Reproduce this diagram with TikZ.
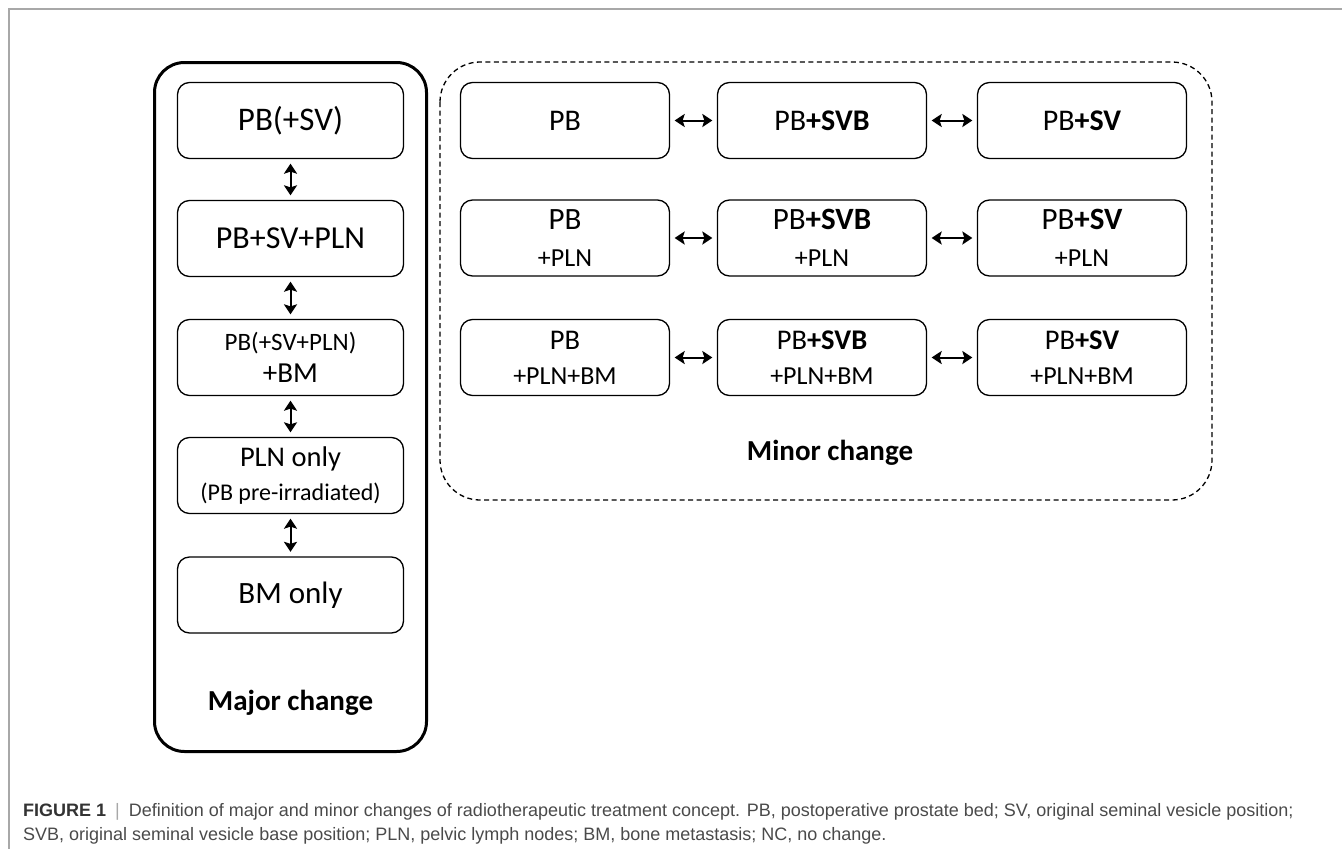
\documentclass[tikz,border=0pt]{standalone}
\usepackage{fontspec}
\setmainfont{Carlito}
\newfontfamily\capfont{Liberation Sans}
\usetikzlibrary{arrows.meta}

\definecolor{framegray}{HTML}{A8A8A8}
\definecolor{capgray}{HTML}{4A4A4A}

\tikzset{
  stagebox/.style={draw, line width=1.3pt, rounded corners=12pt, minimum width=226pt,
    minimum height=76pt, inner sep=0pt, align=center},
  minorbox/.style={stagebox, minimum width=209pt},
  linkarrow/.style={{Stealth[length=10pt,width=13pt,inset=2pt]}-{Stealth[length=10pt,width=13pt,inset=2pt]},
    line width=2pt, shorten <=4.5pt, shorten >=4.5pt},
  grouptitle/.style={font=\fontsize{29}{29}\selectfont\bfseries, inner sep=0pt},
  captext/.style={font=\capfont\fontsize{18}{18}\selectfont, text=capgray, inner sep=0pt, anchor=base west}
}

\begin{document}
\begin{tikzpicture}[x=1pt,y=-1pt]
    \useasboundingbox (0,0) rectangle (1342,849);

    % page frame
    \draw [framegray, line width=1.5pt] (9,849) -- (9,9) -- (1342,9);

    % Major change
    \draw [line width=3pt, rounded corners=30pt] (154.5,62.5) rectangle (426.5,751.5);
    \node [stagebox, font=\fontsize{33}{33}\selectfont] (pbsv) at (290.5,120.5) {PB(+SV)};
    \node [stagebox, font=\fontsize{32}{32}\selectfont] (pbsvpln) at (290.5,238.5) {PB+SV+PLN};
    \node [stagebox, font=\fontsize{29}{32}\selectfont] (pbbm) at (290.5,357.5)
        {{\fontsize{25}{25}\selectfont PB(+SV+PLN)}\\+BM};
    \node [stagebox, font=\fontsize{28.5}{34}\selectfont] (plnonly) at (290.5,475.5)
        {\raisebox{-3pt}{PLN only}\\{\fontsize{24}{24}\selectfont\raisebox{-3pt}{(PB pre-irradiated)}}};
    \node [stagebox, font=\fontsize{31}{31}\selectfont] (bmonly) at (290.5,595) {BM only};
    \node [grouptitle] (majorlabel) at (290.5,703) {Major change};

    % |
    \draw [linkarrow] (pbsv) -- (pbsvpln);
    \draw [linkarrow] (pbsvpln) -- (pbbm);
    \draw [linkarrow] (pbbm) -- (plnonly);
    \draw [linkarrow] (plnonly) -- (bmonly);

    % Minor change
    \draw [line width=1.3pt, dash pattern=on 5pt off 3.5pt, rounded corners=40pt] (440,62) rectangle (1212,500);

    \node [minorbox, font=\fontsize{30}{30}\selectfont] (pb) at (565,120.5) {PB};
    \node [minorbox, font=\fontsize{30}{30}\selectfont] (pbsvb) at (822,120.5) {PB\textbf{+SVB}};
    \node [minorbox, font=\fontsize{30}{30}\selectfont] (pbsvx) at (1082,120.5) {PB\textbf{+SV}};

    \node [minorbox, font=\fontsize{31}{37}\selectfont] (pbpln) at (565,238) {PB\\{\fontsize{26}{26}\selectfont +PLN}};
    \node [minorbox, font=\fontsize{31}{37}\selectfont] (pbsvbpln) at (822,238) {PB\textbf{+SVB}\\{\fontsize{26}{26}\selectfont +PLN}};
    \node [minorbox, font=\fontsize{31}{37}\selectfont] (pbsvpl) at (1082,238) {PB\textbf{+SV}\\{\fontsize{26}{26}\selectfont +PLN}};

    \node [minorbox, font=\fontsize{28.5}{35}\selectfont] (pbplnbm) at (565,357.5) {PB\\{\fontsize{26}{26}\selectfont +PLN+BM}};
    \node [minorbox, font=\fontsize{28.5}{35}\selectfont] (pbsvbplnbm) at (822,357.5) {PB\textbf{+SVB}\\{\fontsize{26}{26}\selectfont +PLN+BM}};
    \node [minorbox, font=\fontsize{28.5}{35}\selectfont] (pbsvplnbm) at (1082,357.5) {PB\textbf{+SV}\\{\fontsize{26}{26}\selectfont +PLN+BM}};

    \node [grouptitle] (minorlabel) at (830,453) {Minor change};

    % <->
    \draw [linkarrow] (pb) -- (pbsvb);
    \draw [linkarrow] (pbsvb) -- (pbsvx);
    \draw [linkarrow] (pbpln) -- (pbsvbpln);
    \draw [linkarrow] (pbsvbpln) -- (pbsvpl);
    \draw [linkarrow] (pbplnbm) -- (pbsvbplnbm);
    \draw [linkarrow] (pbsvbplnbm) -- (pbsvplnbm);

    % caption
    \node [captext] (capline1) at (23,816) {{\bfseries\color{black!80} FIGURE 1}\enspace{\color{framegray}|}\enspace Definition of major and minor changes of radiotherapeutic treatment concept. PB, postoperative prostate bed; SV, original seminal vesicle position;};
    \node [captext] (capline2) at (23,840) {SVB, original seminal vesicle base position; PLN, pelvic lymph nodes; BM, bone metastasis; NC, no change.};
\end{tikzpicture}
\end{document}
